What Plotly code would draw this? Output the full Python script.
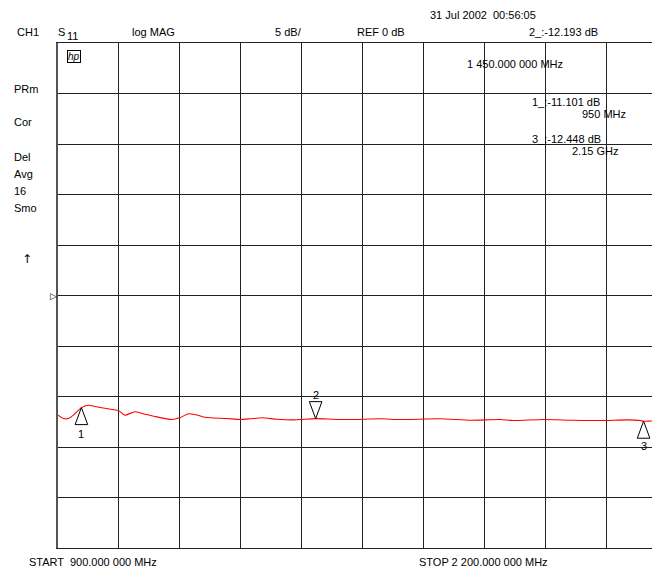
import plotly.graph_objects as go

# ---- data ----
freq_mhz = [900, 911, 922, 933, 950, 965, 979, 1007, 1029, 1043, 1064, 1082, 1107,
            1143, 1160, 1178, 1192, 1214, 1225, 1260, 1289, 1310, 1335, 1367, 1402,
            1450, 1487, 1524, 1588, 1630, 1716, 1780, 1844, 1871, 1935, 1999, 2063,
            2115, 2143, 2150, 2168, 2200]
s11_db = [-11.85, -12.18, -12.18, -11.85, -11.10, -10.86, -10.99, -11.22, -11.39, -11.85,
          -11.51, -11.71, -11.98, -12.28, -12.11, -11.71, -11.78, -12.05, -12.11, -12.18,
          -12.28, -12.21, -12.11, -12.25, -12.31, -12.19, -12.25, -12.28, -12.21, -12.28,
          -12.21, -12.35, -12.28, -12.38, -12.28, -12.35, -12.38, -12.31, -12.38, -12.45,
          -12.42, -12.45]

marker_ids = ["1", "2", "3"]
marker_freq = [950, 1450, 2150]
marker_db = [-11.101, -12.193, -12.448]
marker_dir = ["up", "down", "up"]

start_mhz, stop_mhz = 900, 2200
ref_db, db_per_div, n_div = 0, 5, 10

W, H = 652, 572
L, R, T, B = 58, 0, 43, 24
plot_w = W - L - R
plot_h = H - T - B
full_w = 609  # width of full 10-division grid (extends past the window)
mhz_per_px = (stop_mhz - start_mhz) / full_w
db_per_px = db_per_div * n_div / plot_h
x_max = start_mhz + plot_w * mhz_per_px
y_min = ref_db - db_per_div * n_div / 2
y_max = ref_db + db_per_div * n_div / 2

FONT = "Liberation Sans, Arial, sans-serif"

fig = go.Figure()
fig.add_trace(go.Scatter(x=freq_mhz, y=s11_db, mode="lines",
                         line=dict(color="#ff0000", width=1.1, shape="spline", smoothing=0.5),
                         hoverinfo="skip", showlegend=False))

# marker triangles
tri_h, tri_hw = 17, 6.3
for f, v, d in zip(marker_freq, marker_db, marker_dir):
    s = -1 if d == "up" else 1
    by = v + s * tri_h * db_per_px
    xs = [f, f - tri_hw * mhz_per_px, f + tri_hw * mhz_per_px, f]
    ys = [v, by, by, v]
    fig.add_trace(go.Scatter(x=xs, y=ys, mode="lines", line=dict(color="black", width=1),
                             hoverinfo="skip", showlegend=False))

annotations = []


def px_text(text, px, py, anchor="left", size=11, family=FONT):
    annotations.append(dict(text=text, x=(px - L) / plot_w, y=(H - B - py) / plot_h,
                            xref="paper", yref="paper", xanchor=anchor, yanchor="middle",
                            showarrow=False, font=dict(family=family, size=size, color="black")))


px_text("CH1", 15, 32)
px_text("S", 56, 32)
px_text("11", 65, 36)
px_text("log MAG", 130, 32)
px_text("5 dB/", 273, 32)
px_text("REF 0 dB", 355, 32)
px_text("31 Jul 2002  00:56:05", 428, 15)
px_text("2_:-12.193 dB", 527, 32)
px_text("1 450.000 000 MHz", 465, 64)
px_text("1_:-11.101 dB", 530, 102)
px_text("950 MHz", 628, 114, anchor="right")
px_text("3_:-12.448 dB", 530, 139)
px_text("2.15 GHz", 620, 151, anchor="right")
for lab, yy in zip(["PRm", "Cor", "Del", "Avg", "16", "Smo"], [89, 122, 157, 174, 191, 208]):
    px_text(lab, 12, yy)
px_text("↑", 26.5, 259, anchor="center", size=12, family="DejaVu Sans")
px_text("START  900.000 000 MHz", 27, 562)
px_text("STOP 2 200.000 000 MHz", 417, 562)

# hp logo
annotations.append(dict(text="<i>hp</i>", x=(73.5 - L) / plot_w, y=(H - B - 56.5) / plot_h,
                        xref="paper", yref="paper", xanchor="center", yanchor="middle",
                        showarrow=False, bordercolor="black", borderwidth=1, borderpad=0,
                        font=dict(family=FONT, size=10, color="black")))
# reference level pointer
annotations.append(dict(text="▷", x=(53.5 - L) / plot_w, y=ref_db, xref="paper", yref="y",
                        xanchor="center", yanchor="middle", showarrow=False,
                        font=dict(family="DejaVu Sans", size=9, color="black")))
# marker numbers
offs = [-26, 24, -25]
for lab, f, v, o in zip(marker_ids, marker_freq, marker_db, offs):
    annotations.append(dict(text=lab, x=f, y=v, xref="x", yref="y", yshift=o,
                            xanchor="center", yanchor="middle", showarrow=False,
                            font=dict(family=FONT, size=11, color="black")))

fig.update_layout(
    width=W, height=H, margin=dict(l=L, r=R, t=T, b=B, autoexpand=False),
    paper_bgcolor="white", plot_bgcolor="white", showlegend=False,
    annotations=annotations,
    xaxis=dict(range=[start_mhz, x_max], tick0=start_mhz, dtick=(stop_mhz - start_mhz) / n_div,
               showgrid=True, gridcolor="#222", gridwidth=1, zeroline=False,
               showticklabels=False, ticks="", showline=True, linecolor="#222", linewidth=1,
               mirror=True, fixedrange=True),
    yaxis=dict(range=[y_min, y_max], tick0=y_min, dtick=db_per_div,
               showgrid=True, gridcolor="#222", gridwidth=1, zeroline=False,
               showticklabels=False, ticks="", showline=True, linecolor="#555", linewidth=1.5,
               mirror=False, fixedrange=True),
)

fig.write_html("out.html", config={"displayModeBar": False},
               post_script="document.body.style.margin='0';document.body.style.overflow='hidden';")
